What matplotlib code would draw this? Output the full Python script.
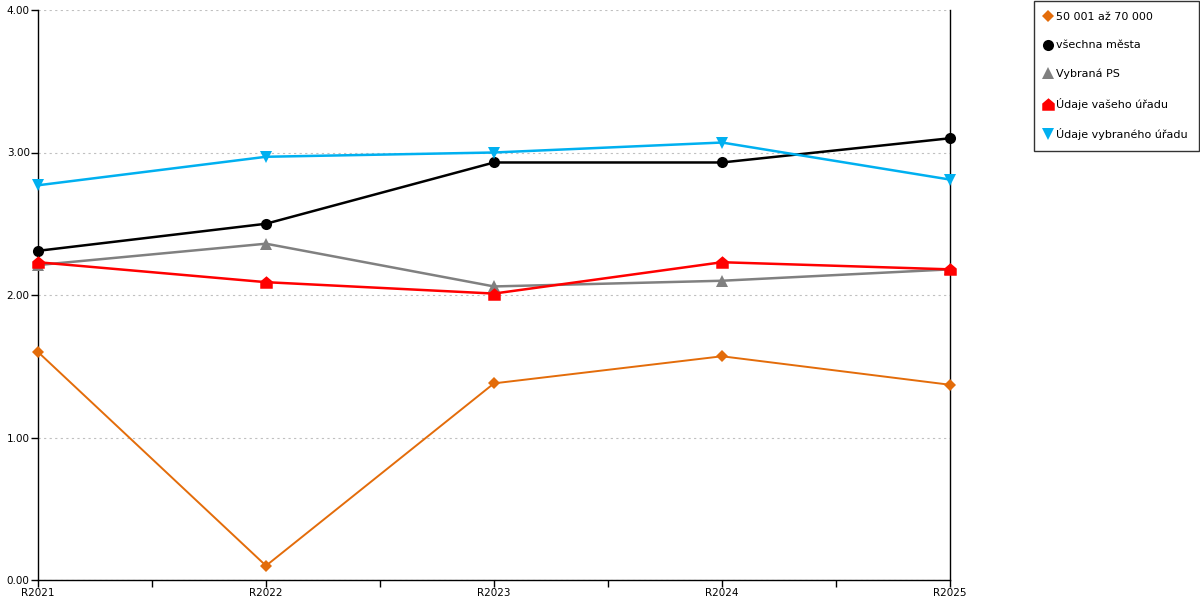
import matplotlib
matplotlib.use("Agg")
import matplotlib.pyplot as plt
from matplotlib.path import Path
from matplotlib.lines import Line2D
import numpy as np

categories = ["R2021", "R2022", "R2023", "R2024", "R2025"]
s_orange = [1.60, 0.10, 1.38, 1.57, 1.37]
s_black = [2.31, 2.50, 2.93, 2.93, 3.10]
s_gray = [2.21, 2.36, 2.06, 2.10, 2.18]
s_red = [2.23, 2.09, 2.01, 2.23, 2.18]
s_blue = [2.77, 2.97, 3.00, 3.07, 2.81]
labels = ["50 001 až 70 000", "všechna města", "Vybraná PS", "Údaje vašeho úřadu", "Údaje vybraného úřadu"]
yticks = [0, 1, 2, 3, 4]

plt.rcParams['font.family'] = ['DejaVu Sans']

house = Path([(-1, -1), (1, -1), (1, 0.15), (0, 1), (-1, 0.15), (-1, -1)],
             [Path.MOVETO, Path.LINETO, Path.LINETO, Path.LINETO, Path.LINETO, Path.CLOSEPOLY])

fig = plt.figure(figsize=(12, 6), dpi=100)
ax = fig.add_axes([38/1200, 20/600, (950-38)/1200, 570/600])

x = np.arange(len(categories))
styles = [
    (s_orange, "#E36C0A", "D", 6.5, 1.4),
    (s_black, "#000000", "o", 8, 1.8),
    (s_gray, "#808080", "^", 8, 1.8),
    (s_red, "#FF0000", house, 9, 1.8),
    (s_blue, "#00B0F0", "v", 9, 1.8),
]
handles = []
for (vals, c, m, ms, lw), lab in zip(styles, labels):
    ax.plot(x, vals, color=c, lw=lw, marker=m, markersize=ms, markeredgewidth=0,
            zorder=3, clip_on=False)
    handles.append(Line2D([], [], linestyle='none', marker=m, color=c, markersize=ms,
                          markeredgewidth=0, label=lab))

ax.set_xlim(0, len(categories) - 1)
ax.set_ylim(0, 4)
ax.set_xticks(x)
ax.set_xticklabels(categories, fontsize=7.5)
ax.set_xticks(np.arange(0.5, len(categories) - 1, 1.0), minor=True)
ax.set_yticks(yticks)
ax.set_yticklabels([f"{v:.2f}" for v in yticks], fontsize=7.5)
ax.tick_params(axis='both', which='both', length=5, width=1, color='black', pad=1)
ax.grid(axis='y', linestyle=(0, (2, 3)), color='#c0c0c0', lw=0.8)
ax.set_axisbelow(True)
ax.spines['top'].set_visible(False)
for s in ['left', 'right', 'bottom']:
    ax.spines[s].set_color('black')
    ax.spines[s].set_linewidth(1)

leg = fig.legend(handles=handles, loc='upper left', bbox_to_anchor=(1034/1200, 1 - 1/600),
                 frameon=True, fancybox=False, edgecolor='black', fontsize=8.0,
                 handlelength=0.6, handletextpad=0.4, labelspacing=1.65,
                 borderpad=1.0, borderaxespad=0)
leg.get_frame().set_linewidth(1)

fig.savefig("out.png", dpi=100)
